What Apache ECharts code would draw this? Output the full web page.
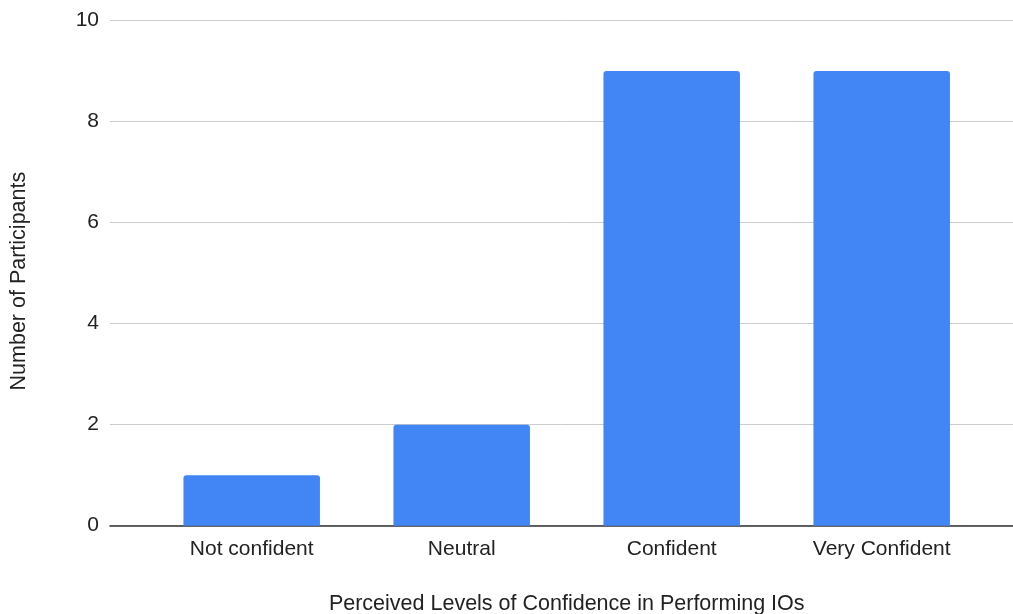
<!DOCTYPE html>
<html>
<head>
<meta charset="utf-8">
<script src="https://cdn.jsdelivr.net/npm/echarts@6/dist/echarts.min.js"></script>
<style>
  html, body { margin: 0; padding: 0; background: #fff; }
  #chart { width: 1013px; height: 614px; }
</style>
</head>
<body>
<div id="chart"></div>
<script>
// Confidence survey: how many participants chose each level
const categories = ['Not confident', 'Neutral', 'Confident', 'Very Confident'];
const participants = [1, 2, 9, 9];
const yTicks = [0, 2, 4, 6, 8, 10];

const xTitle = 'Perceived Levels of Confidence in Performing IOs';
const yTitle = 'Number of Participants';

const FONT = '"Liberation Sans", Arial, sans-serif';
const TEXT = '#222';
const SIZE = 21;
const TITLE_SIZE = 21.5;

const chart = echarts.init(document.getElementById('chart'), null, { renderer: 'canvas' });

chart.setOption({
  animation: false,
  textStyle: { fontFamily: FONT },
  grid: [
    // full-width frame: gridlines, y labels, baseline
    { left: 110, right: 0, top: 20.5, bottom: 88.3, containLabel: false, outerBoundsMode: 'none' },
    // inner frame where the category slots sit
    { left: 146.7, right: 26.3, top: 20.5, bottom: 88.3, containLabel: false, outerBoundsMode: 'none' }
  ],
  xAxis: [
    {
      gridIndex: 0, type: 'value', min: 0, max: 1,
      axisLine: { show: true, onZero: false, lineStyle: { color: '#333', width: 1.5 } },
      axisTick: { show: false }, axisLabel: { show: false }, splitLine: { show: false }
    },
    {
      gridIndex: 1, type: 'category', data: categories,
      axisLine: { show: false }, axisTick: { show: false },
      axisLabel: { color: TEXT, fontSize: SIZE, fontFamily: FONT, margin: 13 },
      name: xTitle, nameLocation: 'middle', nameGap: 67,
      nameTextStyle: { color: TEXT, fontSize: TITLE_SIZE, fontFamily: FONT }
    }
  ],
  yAxis: [
    {
      gridIndex: 0, type: 'value', min: yTicks[0], max: yTicks[yTicks.length - 1], interval: 2,
      axisLine: { show: false }, axisTick: { show: false },
      axisLabel: { color: TEXT, fontSize: SIZE, fontFamily: FONT, margin: 11 },
      splitLine: { lineStyle: { color: '#cccccc', width: 1 } },
      name: yTitle, nameLocation: 'middle', nameGap: 80, nameRotate: 90,
      nameTextStyle: { color: TEXT, fontSize: TITLE_SIZE, fontFamily: FONT, padding: [0, 16, 0, 0] }
    },
    {
      gridIndex: 1, type: 'value', min: yTicks[0], max: yTicks[yTicks.length - 1],
      show: false
    }
  ],
  series: [
    {
      type: 'bar', xAxisIndex: 1, yAxisIndex: 1,
      data: participants,
      barWidth: '65%',
      itemStyle: { color: '#4285f4', borderRadius: [3, 3, 0, 0] },
      z: 1
    }
  ]
});
</script>
</body>
</html>
